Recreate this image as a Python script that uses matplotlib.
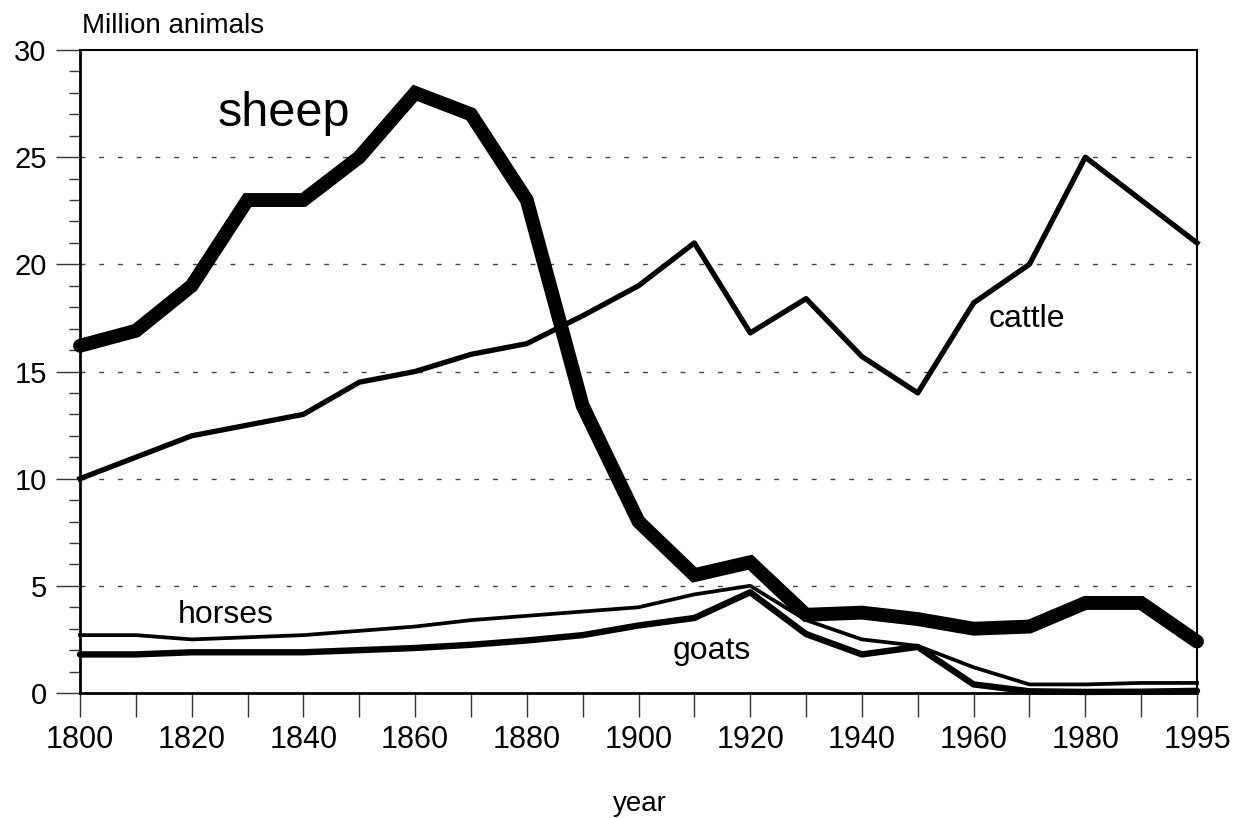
import matplotlib
matplotlib.use("Agg")
import matplotlib.pyplot as plt
from matplotlib.ticker import MultipleLocator

plt.rcParams['font.family'] = ['Liberation Sans', 'DejaVu Sans']

years = [1800, 1810, 1820, 1830, 1840, 1850, 1860, 1870, 1880, 1890,
         1900, 1910, 1920, 1930, 1940, 1950, 1960, 1970, 1980, 1990, 1995]
sheep = [16.2, 16.9, 19.0, 23.0, 23.0, 25.0, 28.0, 27.0, 23.0, 13.4,
         8.0, 5.5, 6.1, 3.65, 3.75, 3.45, 3.0, 3.1, 4.2, 4.2, 2.4]
cattle = [10.0, 11.0, 12.0, 12.5, 13.0, 14.5, 15.0, 15.8, 16.3, 17.6,
          19.0, 21.0, 16.8, 18.4, 15.7, 14.0, 18.2, 20.0, 25.0, 23.0, 21.0]
horses = [2.7, 2.7, 2.5, 2.6, 2.7, 2.9, 3.1, 3.4, 3.6, 3.8,
          4.0, 4.6, 5.0, 3.4, 2.5, 2.2, 1.2, 0.4, 0.4, 0.47, 0.47]
goats = [1.8, 1.8, 1.9, 1.9, 1.9, 2.0, 2.1, 2.25, 2.45, 2.7,
         3.15, 3.5, 4.7, 2.75, 1.8, 2.15, 0.4, 0.08, 0.05, 0.06, 0.1]
tick_labels = [str(y) if (i % 2 == 0) else "" for i, y in enumerate(years)]

W, H = 1247, 818
fig = plt.figure(figsize=(W / 100, H / 100), dpi=100)
ax = fig.add_axes([80 / W, 1 - 693 / H, (1197 - 80) / W, (693 - 50) / H])

x = list(range(len(years)))

for v in [5, 10, 15, 20, 25]:
    ax.axhline(v, color='#444444', lw=1.0, linestyle=(0, (3.5, 10.0)), zorder=1)

ax.plot(x, horses, color='black', lw=2.7, zorder=3, clip_on=False)
ax.plot(x, goats, color='black', lw=4.6, zorder=3, clip_on=False,
        solid_capstyle='round')
ax.plot(x, cattle, color='black', lw=3.8, zorder=4, clip_on=False)
ax.plot(x, sheep, color='black', lw=10, zorder=5, clip_on=False,
        solid_capstyle='round', solid_joinstyle='miter')

ax.set_xlim(0, len(years) - 1)
ax.set_ylim(0, 30)
ax.set_xticks(x)
ax.set_xticklabels(tick_labels, fontsize=22)
ax.yaxis.set_major_locator(MultipleLocator(5))
ax.yaxis.set_minor_locator(MultipleLocator(1))
ax.tick_params(axis='y', which='major', length=17, width=1, color='#333333',
               labelsize=21, pad=7)
ax.tick_params(axis='y', which='minor', length=8, width=1, color='#333333')
ax.tick_params(axis='x', which='major', length=17, width=1, color='#333333',
               pad=6)

for s in ['left', 'bottom']:
    ax.spines[s].set_linewidth(2)
for s in ['top', 'right']:
    ax.spines[s].set_linewidth(1.5)

def label(px, py, s, size, ha='left'):
    fig.text(px / W, 1 - py / H, s, fontsize=size, va='baseline', ha=ha)

label(218, 126, "sheep", 35)
label(989, 327, "cattle", 23)
label(178, 623, "horses", 23)
label(673, 659, "goats", 23)
label(82, 33, "Million animals", 20)
label(640, 811, "year", 20, ha='center')

fig.savefig("out.png", dpi=100)
